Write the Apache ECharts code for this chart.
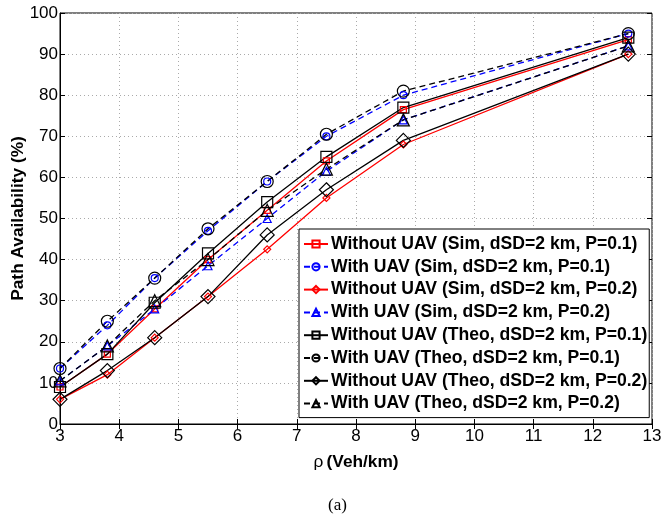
<!doctype html>
<html>
<head>
<meta charset="UTF-8">
<title>Path Availability</title>
<script src="https://cdn.jsdelivr.net/npm/echarts@6/dist/echarts.min.js"></script>
<style>
  html, body { margin: 0; padding: 0; background: #fff; }
  #main { width: 667px; height: 519px; }
</style>
</head>
<body>
<div id="main"></div>
<script>
// vehicle density (Veh/km)
var rho = [3, 3.8, 4.6, 5.5, 6.5, 7.5, 8.8, 12.6];

// path availability (%)
var simNoUav01   = [9, 17, 28, 40, 52, 64, 76.5, 93.5];
var simUav01     = [13.5, 24, 35.5, 47, 59, 70, 80, 95];
var simNoUav02   = [6, 12, 21, 31, 42.5, 55, 68, 90];
var simUav02     = [10.5, 19, 28, 38.5, 50, 61.5, 74, 92];
var theoNoUav01  = [9, 17, 29.5, 41.5, 54, 65, 77, 94];
var theoUav01    = [13.5, 25, 35.5, 47.5, 59, 70.5, 81, 95];
var theoNoUav02  = [6, 13, 21, 31, 46, 57, 69, 90];
var theoUav02    = [10.5, 19, 30, 40, 52, 62, 74, 92];

var names = [
  'Without UAV (Sim, dSD=2 km, P=0.1)',
  'With UAV (Sim, dSD=2 km, P=0.1)',
  'Without UAV (Sim, dSD=2 km, P=0.2)',
  'With UAV (Sim, dSD=2 km, P=0.2)',
  'Without UAV (Theo, dSD=2 km, P=0.1)',
  'With UAV (Theo, dSD=2 km, P=0.1)',
  'Without UAV (Theo, dSD=2 km, P=0.2)',
  'With UAV (Theo, dSD=2 km, P=0.2)'
];

function pairs(ys) {
  return rho.map(function (x, i) { return [x, ys[i]]; });
}

function mk(name, ys, color, dashed, symbol, size) {
  return {
    name: name,
    type: 'line',
    data: pairs(ys),
    symbol: symbol,
    symbolSize: size,
    lineStyle: { color: color, width: 1.3, type: dashed ? [6, 4] : 'solid' },
    itemStyle: { color: 'rgba(255,255,255,0)', borderColor: color, borderWidth: 1.2 },
    emphasis: { disabled: true }
  };
}

var myChart = echarts.init(document.getElementById('main'), null, { renderer: 'canvas' });

var font = 'Liberation Sans';

var option = {
  animation: false,
  backgroundColor: '#fff',
  grid: {
    left: 60, right: 15, top: 13, bottom: 95,
    outerBoundsMode: 'none', containLabel: false,
    show: true, borderColor: '#000', borderWidth: 1
  },
  legend: {
    orient: 'vertical',
    left: 299,
    top: 229,
    padding: [6, 2, 5, 4],
    itemGap: 4.8,
    itemWidth: 24,
    itemHeight: 9,
    backgroundColor: '#fff',
    borderColor: '#000',
    borderWidth: 1,
    borderRadius: 0,
    textStyle: { fontFamily: font, fontWeight: 'bold', fontSize: 17.6, lineHeight: 17, color: '#000', padding: [0, 0, 0, -2] },
    data: names.map(function (n) {
      return { name: n, itemStyle: { color: 'rgba(255,255,255,0)' } };
    })
  },
  xAxis: [{
    type: 'value', min: 3, max: 13, interval: 1,
    name: '{r|ρ} {b|(Veh/km)}', nameLocation: 'middle', nameGap: 30,
    nameTextStyle: { rich: {
      r: { fontFamily: font, fontSize: 17.3, color: '#000' },
      b: { fontFamily: font, fontSize: 17.3, fontWeight: 'bold', color: '#000' }
    } },
    axisLine: { lineStyle: { color: '#000', width: 1 } },
    axisTick: { inside: true, length: 5, lineStyle: { color: '#000' } },
    axisLabel: { fontFamily: font, fontSize: 17, color: '#000', margin: 4 },
    splitLine: { show: true, lineStyle: { color: '#aaa', type: [1, 3] } }
  }, {
    type: 'value', min: 3, max: 13, interval: 1, position: 'top',
    axisLine: { show: false },
    axisTick: { inside: true, length: 5, lineStyle: { color: '#000' } },
    axisLabel: { show: false },
    splitLine: { show: false }
  }],
  yAxis: [{
    type: 'value', min: 0, max: 100, interval: 10,
    name: 'Path Availability (%)', nameLocation: 'middle', nameGap: 33,
    nameMoveOverlap: false,
    nameTextStyle: { fontFamily: font, fontSize: 17.3, fontWeight: 'bold', color: '#000' },
    axisLine: { show: true, lineStyle: { color: '#000', width: 1 } },
    axisTick: { show: true, inside: true, length: 5, lineStyle: { color: '#000' } },
    axisLabel: { fontFamily: font, fontSize: 17, color: '#000', margin: 2 },
    splitLine: { show: true, lineStyle: { color: '#aaa', type: [1, 3] } }
  }, {
    type: 'value', min: 0, max: 100, interval: 10, position: 'right',
    axisLine: { show: false },
    axisTick: { show: true, inside: true, length: 5, lineStyle: { color: '#000' } },
    axisLabel: { show: false },
    splitLine: { show: false }
  }],
  graphic: [{
    type: 'text', left: 328, top: 497,
    style: { text: '(a)', font: '17px "Liberation Serif"', fill: '#000' }
  }],
  series: [
    mk(names[0], simNoUav01, '#ff0000', false, 'rect', 6),
    mk(names[1], simUav01, '#0000ff', true, 'circle', 7),
    mk(names[2], simNoUav02, '#ff0000', false, 'diamond', 7),
    mk(names[3], simUav02, '#0000ff', true, 'triangle', 8),
    mk(names[4], theoNoUav01, '#000000', false, 'rect', 11),
    mk(names[5], theoUav01, '#000000', true, 'circle', 12),
    mk(names[6], theoNoUav02, '#000000', false, 'diamond', 14),
    mk(names[7], theoUav02, '#000000', true, 'triangle', 12)
  ]
};

myChart.setOption(option);
</script>
</body>
</html>
